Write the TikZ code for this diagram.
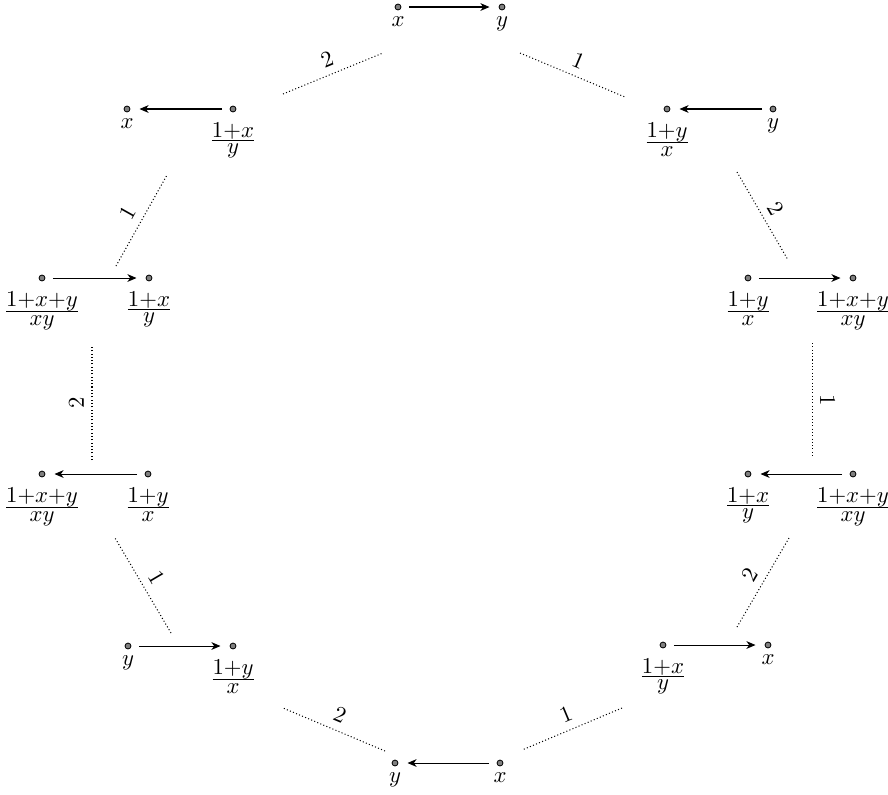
\documentclass[tikz,border=0pt]{standalone}
\usetikzlibrary{arrows.meta}
\newcommand\myfrac[2]{\frac{\textstyle #1}{\textstyle #2}}
\tikzset{
  dotn/.style={circle, draw=black, line width=0.35pt, fill=black!50, minimum size=2.6pt, inner sep=0pt, outer sep=0pt},
  lab/.style={anchor=north, inner sep=0pt},
  arr/.style={-{Stealth[length=4pt,width=3.4pt,inset=1.2pt]}, line width=0.45pt, shorten <=3.5pt, shorten >=4.2pt},
  link/.style={densely dotted, line width=0.45pt},
  num/.style={sloped, above, midway}
}
\begin{document}
\begin{tikzpicture}[x=0.44pt, y=-0.44pt]
\useasboundingbox (0,0) rectangle (888,794);
% dots
\node[dotn] (d1) at (398,7) {};   \node[dotn] (d2) at (502,7) {};
\node[dotn] (d3) at (127,109) {}; \node[dotn] (d4) at (233,109) {};
\node[dotn] (d5) at (667,109) {}; \node[dotn] (d6) at (773,109) {};
\node[dotn] (d7) at (42,278) {};  \node[dotn] (d8) at (149,278) {};
\node[dotn] (d9) at (748,278) {}; \node[dotn] (d10) at (853,278) {};
\node[dotn] (d11) at (42,474) {}; \node[dotn] (d12) at (148,474) {};
\node[dotn] (d13) at (748,474) {}; \node[dotn] (d14) at (853,474) {};
\node[dotn] (d15) at (128,646) {}; \node[dotn] (d16) at (233,646) {};
\node[dotn] (d17) at (663,645) {}; \node[dotn] (d18) at (768,645) {};
\node[dotn] (d19) at (395,763) {}; \node[dotn] (d20) at (500,763) {};
% labels
\node[lab] (l1) at ([yshift=-3.96pt]d1.center) {$x$};
\node[lab] (l2) at ([yshift=-3.96pt]d2.center) {$y$};
\node[lab] (l3) at ([yshift=-3.96pt]d3.center) {$x$};
\node[lab] (l4) at ([yshift=-5.7pt]d4.center) {$\myfrac{1{+}x}{y}$};
\node[lab] (l5) at ([yshift=-5.7pt]d5.center) {$\myfrac{1{+}y}{x}$};
\node[lab] (l6) at ([yshift=-3.96pt]d6.center) {$y$};
\node[lab] (l7) at ([yshift=-5.7pt]d7.center) {$\myfrac{1{+}x{+}y}{xy}$};
\node[lab] (l8) at ([yshift=-5.7pt]d8.center) {$\myfrac{1{+}x}{y}$};
\node[lab] (l9) at ([yshift=-5.7pt]d9.center) {$\myfrac{1{+}y}{x}$};
\node[lab] (l10) at ([yshift=-5.7pt]d10.center) {$\myfrac{1{+}x{+}y}{xy}$};
\node[lab] (l11) at ([yshift=-5.7pt]d11.center) {$\myfrac{1{+}x{+}y}{xy}$};
\node[lab] (l12) at ([yshift=-5.7pt]d12.center) {$\myfrac{1{+}y}{x}$};
\node[lab] (l13) at ([yshift=-5.7pt]d13.center) {$\myfrac{1{+}x}{y}$};
\node[lab] (l14) at ([yshift=-5.7pt]d14.center) {$\myfrac{1{+}x{+}y}{xy}$};
\node[lab] (l15) at ([yshift=-3.96pt]d15.center) {$y$};
\node[lab] (l16) at ([yshift=-5.7pt]d16.center) {$\myfrac{1{+}y}{x}$};
\node[lab] (l17) at ([yshift=-5.7pt]d17.center) {$\myfrac{1{+}x}{y}$};
\node[lab] (l18) at ([yshift=-3.96pt]d18.center) {$x$};
\node[lab] (l19) at ([yshift=-3.96pt]d19.center) {$y$};
\node[lab] (l20) at ([yshift=-3.96pt]d20.center) {$x$};
% arrows
\draw[arr] (d1) -- (d2);
\draw[arr] (d4) -- (d3);
\draw[arr] (d6) -- (d5);
\draw[arr] (d7) -- (d8);
\draw[arr] (d9) -- (d10);
\draw[arr] (d12) -- (d11);
\draw[arr] (d14) -- (d13);
\draw[arr] (d15) -- (d16);
\draw[arr] (d17) -- (d18);
\draw[arr] (d20) -- (d19);
% link end points
\coordinate (a1) at (283,94);  \coordinate (b1) at (383,53);
\coordinate (a2) at (520,53);  \coordinate (b2) at (625,97);
\coordinate (a3) at (737,172); \coordinate (b3) at (788,260);
\coordinate (a4) at (812,343); \coordinate (b4) at (812,458);
\coordinate (a5) at (789,538); \coordinate (b5) at (737,627);
\coordinate (a6) at (622,708); \coordinate (b6) at (522,750);
\coordinate (a7) at (385,751); \coordinate (b7) at (283,708);
\coordinate (a8) at (171,633); \coordinate (b8) at (115,538);
\coordinate (a9) at (92,460);  \coordinate (b9) at (92,345);
\coordinate (a10) at (116,266); \coordinate (b10) at (167,175);
% links
\draw[link] (a1) -- node[num] (n1) {2} (b1);
\draw[link] (a2) -- node[num] (n2) {1} (b2);
\draw[link] (a3) -- node[num] (n3) {2} (b3);
\draw[link] (a4) -- node[num, allow upside down] (n4) {1} (b4);
\draw[link] (a5) -- node[num] (n5) {2} (b5);
\draw[link] (a6) -- node[num] (n6) {1} (b6);
\draw[link] (a7) -- node[num] (n7) {2} (b7);
\draw[link] (a8) -- node[num] (n8) {1} (b8);
\draw[link] (a9) -- node[num] (n9) {2} (b9);
\draw[link] (a10) -- node[num] (n10) {1} (b10);
\end{tikzpicture}
\end{document}
